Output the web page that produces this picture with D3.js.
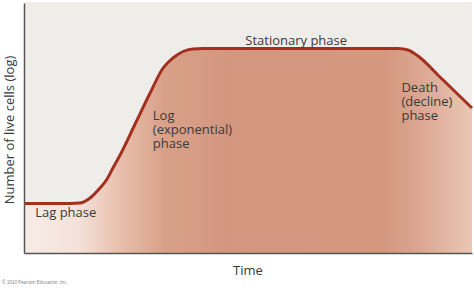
<!DOCTYPE html>
<html>
<head>
<meta charset="utf-8">
<script src="https://cdn.jsdelivr.net/npm/d3@7"></script>
<style>
    body { margin: 0; background: #fff; }
    svg text { font-family: "Open Sans", "Noto Sans", sans-serif; fill: #3a3a3a; }
</style>
</head>
<body>
<script>
// bacterial growth curve
// time in arbitrary units, cells as log count (arbitrary units)
var time     = [0, 1.61, 2.5, 2.95, 3.39, 3.71, 3.97, 4.29, 4.96, 5.63,
                6.21, 6.65, 7.1, 7.54, 7.99, 12.3, 16.7, 17.14, 17.59,
                18.57, 20];
var logCells = [1.98, 1.98, 2.0, 2.2, 2.6, 2.96, 3.4, 3.92, 5.16, 6.4,
                7.4, 7.8, 8.06, 8.16, 8.18, 8.18, 8.18, 8.12, 7.88,
                7.04, 5.8];

// phase labels: text lines and anchor in data units
var phaseNames = [
    ["Lag phase"],
    ["Log", "(exponential)", "phase"],
    ["Stationary phase"],
    ["Death", "(decline)", "phase"]
];
var phaseTime  = [0.5, 5.75, 12.15, 16.85];
var phaseCells = [1.44, 5.32, 8.32, 6.44];
var phaseAlign = ["start", "start", "middle", "start"];

var xTitle = "Time";
var yTitle = "Number of live cells (log)";
var credit = "\u00a9 2020 Pearson Education, Inc.";

var W = 474, H = 288;
var margin = {top: 2, right: 2, bottom: 35, left: 24};

var svg = d3.select("body").append("svg")
    .attr("width", W)
    .attr("height", H);

var x = d3.scaleLinear().domain([0, 20])
    .range([margin.left, W - margin.right]);
var y = d3.scaleLinear().domain([0, 10])
    .range([H - margin.bottom, margin.top + 1]);

// plot background
svg.append("rect")
    .attr("x", x(0))
    .attr("y", margin.top)
    .attr("width", x(20) - x(0))
    .attr("height", y(0) - margin.top)
    .style("fill", "#efedea");

// horizontal gradient for the area under the curve
var grad = svg.append("defs").append("linearGradient")
    .attr("id", "fillGrad")
    .attr("gradientUnits", "userSpaceOnUse")
    .attr("x1", x(0)).attr("x2", x(20))
    .attr("y1", 0).attr("y2", 0);

var stops = [
    [0.00, "#f7ebe6"], [0.12, "#f4e2da"], [0.22, "#e7bda9"],
    [0.31, "#d9a189"], [0.45, "#d39780"], [0.80, "#d3987e"],
    [0.88, "#dba590"], [1.00, "#eac7b4"]
];
grad.selectAll("stop")
    .data(stops)
    .enter()
    .append("stop")
    .attr("offset", function(d){ return d[0]; })
    .attr("stop-color", function(d){ return d[1]; });

var pts = time.map(function(t, i){ return [t, logCells[i]]; });

var area = d3.area()
    .x(function(d){ return x(d[0]); })
    .y0(y(0))
    .y1(function(d){ return y(d[1]); })
    .curve(d3.curveMonotoneX);

svg.append("path")
    .datum(pts)
    .attr("d", area)
    .style("fill", "url(#fillGrad)");

var line = d3.line()
    .x(function(d){ return x(d[0]); })
    .y(function(d){ return y(d[1]); })
    .curve(d3.curveMonotoneX);

svg.append("path")
    .datum(pts)
    .attr("d", line)
    .style("fill", "none")
    .style("stroke", "#a3301f")
    .style("stroke-width", "3px")
    .style("stroke-linecap", "butt");

// axes: plain lines, no ticks
svg.append("g")
    .attr("transform", "translate(" + x(0) + ",0)")
    .call(d3.axisLeft(y).ticks(0).tickSizeOuter(0))
    .select(".domain")
    .style("stroke", "#555")
    .style("stroke-width", "1.5px");

svg.append("g")
    .attr("transform", "translate(0," + y(0) + ")")
    .call(d3.axisBottom(x).ticks(0).tickSizeOuter(0))
    .select(".domain")
    .style("stroke", "#555")
    .style("stroke-width", "1.5px");

// phase labels
phaseNames.forEach(function(lines, i){
    var t = svg.append("text")
        .attr("x", x(phaseTime[i]))
        .attr("y", y(phaseCells[i]))
        .attr("text-anchor", phaseAlign[i])
        .style("font-size", "13px");
    lines.forEach(function(s, j){
        t.append("tspan")
            .attr("x", x(phaseTime[i]))
            .attr("dy", j == 0 ? 0 : 14)
            .text(s);
    });
});

// axis titles
svg.append("text")
    .text(xTitle)
    .attr("x", 248)
    .attr("y", 275)
    .attr("text-anchor", "middle")
    .style("font-size", "13px");

svg.append("text")
    .text(yTitle)
    .attr("transform", "translate(14,130) rotate(-90)")
    .attr("text-anchor", "middle")
    .style("font-size", "13px");

svg.append("text")
    .text(credit)
    .attr("x", 2)
    .attr("y", 284)
    .style("font-size", "4.5px")
    .style("fill", "#777");
</script>
</body>
</html>
